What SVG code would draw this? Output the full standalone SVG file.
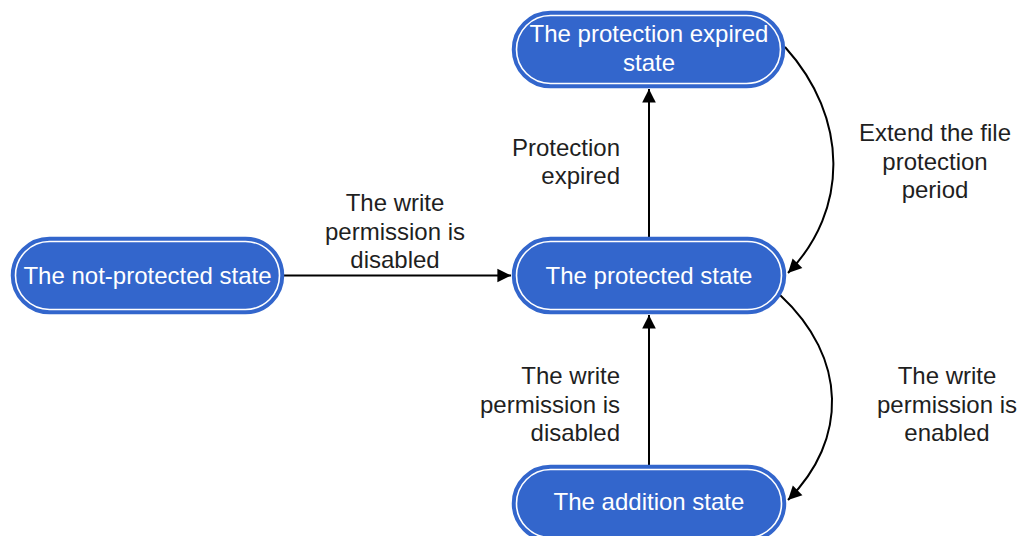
<svg xmlns="http://www.w3.org/2000/svg" width="1025" height="536" viewBox="0 0 1025 536">
  <style>
    .node-outer { fill: #3366cc; stroke: #3366cc; stroke-width: 2.5; }
    .node-inner { fill: none; stroke: #ffffff; stroke-width: 1.6; }
    .node-text { font-family: "Liberation Sans", Arial, sans-serif; font-size: 24px; fill: #ffffff; text-anchor: middle; }
    .label { font-family: "Liberation Sans", Arial, sans-serif; font-size: 24px; fill: #1f1f1f; }
    .edge { fill: none; stroke: #000000; stroke-width: 2; marker-end: url(#arrow); }
  </style>
  <defs>
    <marker id="arrow" viewBox="0 0 10 10" refX="10" refY="5" markerWidth="8" markerHeight="8" markerUnits="userSpaceOnUse" orient="auto" style="overflow:visible">
      <path d="M0,0 L10,5 L0,10 z" fill="#000000" transform="scale(1.7)" transform-origin="10 5"/>
    </marker>
  </defs>
  <rect width="1025" height="536" fill="#ffffff"/>

  <!-- connectors -->
  <g id="connectors">
    <path class="edge" d="M283,275.5 L511,275.5"/>
    <path class="edge" d="M649,238 L649,89"/>
    <path class="edge" d="M649,466 L649,315"/>
    <path class="edge" d="M785,47 C849,118 849,210 788,273"/>
    <path class="edge" d="M780,295 C848,358 848,440 788,500"/>
  </g>

  <!-- edge labels -->
  <g id="labels">
    <text class="label" text-anchor="end" x="620" y="156">Protection</text>
    <text class="label" text-anchor="end" x="620" y="184">expired</text>

    <text class="label" text-anchor="middle" x="395" y="211">The write</text>
    <text class="label" text-anchor="middle" x="395" y="240">permission is</text>
    <text class="label" text-anchor="middle" x="395" y="268">disabled</text>

    <text class="label" text-anchor="middle" x="935" y="141">Extend the file</text>
    <text class="label" text-anchor="middle" x="935" y="170">protection</text>
    <text class="label" text-anchor="middle" x="935" y="198">period</text>

    <text class="label" text-anchor="end" x="620" y="384">The write</text>
    <text class="label" text-anchor="end" x="620" y="413">permission is</text>
    <text class="label" text-anchor="end" x="620" y="441">disabled</text>

    <text class="label" text-anchor="middle" x="947" y="384">The write</text>
    <text class="label" text-anchor="middle" x="947" y="413">permission is</text>
    <text class="label" text-anchor="middle" x="947" y="441">enabled</text>
  </g>

  <!-- nodes -->
  <g id="node-expired">
    <rect class="node-outer" x="513" y="12" width="271" height="75" rx="37.5"/>
    <rect class="node-inner" x="516.5" y="15.5" width="264" height="68" rx="34"/>
    <text class="node-text" x="649" y="42">The protection expired</text>
    <text class="node-text" x="649" y="71">state</text>
  </g>
  <g id="node-not-protected">
    <rect class="node-outer" x="12" y="238" width="271" height="75" rx="37.5"/>
    <rect class="node-inner" x="15.5" y="241.5" width="264" height="68" rx="34"/>
    <text class="node-text" x="147.5" y="283.5">The not-protected state</text>
  </g>
  <g id="node-protected">
    <rect class="node-outer" x="513" y="238" width="272" height="75" rx="37.5"/>
    <rect class="node-inner" x="516.5" y="241.5" width="265" height="68" rx="34"/>
    <text class="node-text" x="649" y="283.5">The protected state</text>
  </g>
  <g id="node-addition">
    <rect class="node-outer" x="513" y="466" width="272" height="75" rx="37.5"/>
    <rect class="node-inner" x="516.5" y="469.5" width="265" height="68" rx="34"/>
    <text class="node-text" x="649" y="510">The addition state</text>
  </g>
</svg>
